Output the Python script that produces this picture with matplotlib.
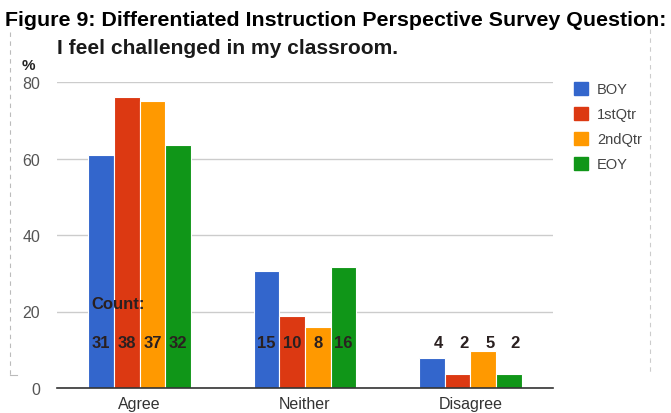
import matplotlib
matplotlib.use("Agg")
import matplotlib.pyplot as plt
import numpy as np
from matplotlib.lines import Line2D

categories = ["Agree", "Neither", "Disagree"]
series = ["BOY", "1stQtr", "2ndQtr", "EOY"]
BOY = [61, 30.6, 7.8]
Q1 = [76, 18.8, 3.7]
Q2 = [75, 16, 9.7]
EOY = [63.6, 31.7, 3.7]
counts_agree = [31, 38, 37, 32]
counts_neither = [15, 10, 8, 16]
counts_disagree = [4, 2, 5, 2]
yticks = [0, 20, 40, 60, 80]

colors = ["#3366cc", "#dc3912", "#ff9900", "#109618"]
values = [BOY, Q1, Q2, EOY]
counts = [counts_agree, counts_neither, counts_disagree]

plt.rcParams['font.family'] = ['Liberation Sans', 'DejaVu Sans']
fig = plt.figure(figsize=(6.71, 4.14), dpi=100)
W, H = 671, 414
ax = fig.add_axes([57 / W, (H - 389) / H, (553 - 57) / W, (389 - 83) / H])

x = np.arange(len(categories))
bw = 0.155
for i, (vals, c, name) in enumerate(zip(values, colors, series)):
    ax.bar(x + (i - 1.5) * bw, vals, width=bw, color=c, edgecolor="white",
           linewidth=0.8, label=name, zorder=3)

ax.set_xlim(-0.5, 2.5)
ax.set_ylim(0, 80)
ax.set_yticks(yticks)
ax.set_yticklabels([str(t) for t in yticks], color="#555555", fontsize=11.5)
ax.set_xticks(x)
ax.set_xticklabels(categories, color="#333333", fontsize=11.5)
ax.tick_params(axis="x", length=0, pad=6)
ax.tick_params(axis="y", length=0, pad=12)
ax.grid(axis="y", color="#cccccc", linewidth=1, zorder=0)
for s in ["top", "right", "left"]:
    ax.spines[s].set_visible(False)
ax.spines["bottom"].set_color("#333333")
ax.spines["bottom"].set_linewidth(1.2)
ax.spines["bottom"].set_zorder(4)

# count labels
ax.text(-0.29, 22, "Count:", fontsize=12, fontweight="bold", color="#2a2020",
        ha="left", va="center", zorder=5)
for gi, cl in enumerate(counts):
    for i, cval in enumerate(cl):
        ax.text(gi + (i - 1.5) * bw + (0.04 if gi == 2 else 0), 12, str(cval), fontsize=12,
                fontweight="bold", color="#2a2020", ha="center", va="center", zorder=5)

# legend
handles = [plt.Rectangle((0, 0), 1, 1, color=c) for c in colors]
leg = fig.legend(handles, series, loc="upper left", bbox_to_anchor=(568 / W, 1 - 77 / H),
                 frameon=False, fontsize=10.5, handlelength=1.0, handleheight=1.0,
                 labelspacing=0.72, handletextpad=0.6, borderaxespad=0)
for t in leg.get_texts():
    t.set_color("#444444")

# titles
fig.text(5 / W, 1 - 20 / H, "Figure 9: Differentiated Instruction Perspective Survey Question:",
         fontsize=15.4, fontweight="bold", color="black", ha="left", va="center")
fig.text(57 / W, 1 - 48 / H, "I feel challenged in my classroom.",
         fontsize=15.1, fontweight="bold", color="#1a1a1a", ha="left", va="center")
fig.text(22 / W, 1 - 66 / H, "%", fontsize=11, fontweight="bold", color="#222222",
         ha="left", va="center")

# dashed frame lines
fig.add_artist(Line2D([10 / W, 10 / W], [1 - 33 / H, 1 - 376 / H], transform=fig.transFigure,
                      color="#bbbbbb", linestyle=(0, (4, 4)), linewidth=0.8))
fig.add_artist(Line2D([10 / W, 17 / W], [1 - 376 / H, 1 - 376 / H], transform=fig.transFigure,
                      color="#bbbbbb", linewidth=0.8))
fig.add_artist(Line2D([650 / W, 650 / W], [1 - 30 / H, 1 - 376 / H], transform=fig.transFigure,
                      color="#cccccc", linestyle=(0, (4, 4)), linewidth=0.8))

fig.savefig("out.png", dpi=100)
